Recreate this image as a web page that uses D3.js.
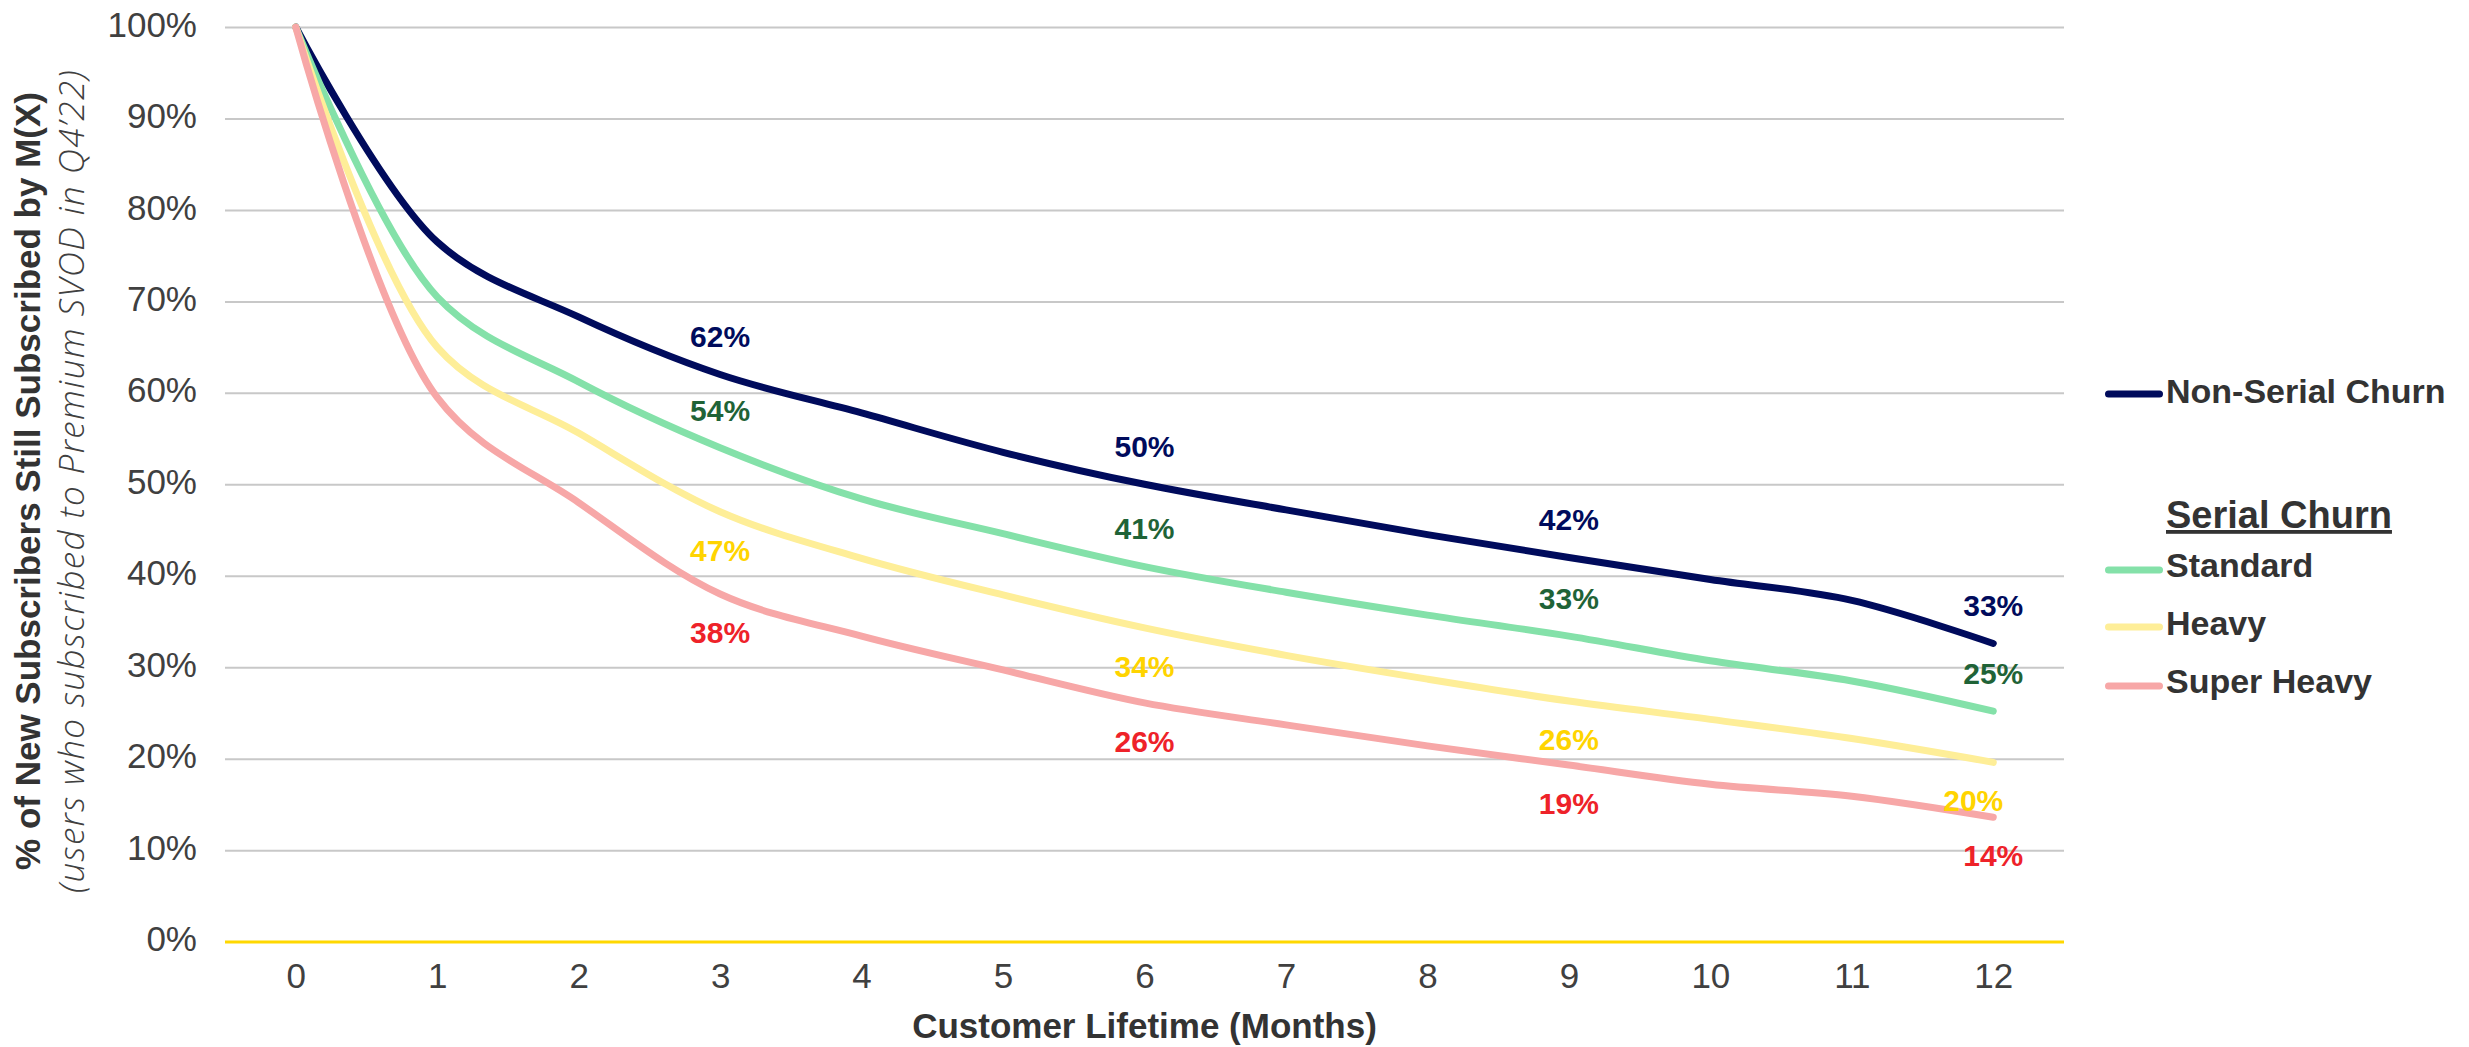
<!DOCTYPE html>
<html>
<head>
<meta charset="utf-8">
<script src="https://cdn.jsdelivr.net/npm/d3@7"></script>
<style>
  html, body { margin: 0; padding: 0; background: #ffffff; }
  svg { display: block; }
</style>
</head>
<body>
<svg id="chart" width="2469" height="1047"></svg>
<script>
// Retention by month of customer lifetime (share of new subscribers still subscribed)
const months = ["0", "1", "2", "3", "4", "5", "6", "7", "8", "9", "10", "11", "12"];
const nonSerial  = [1.00, 0.765, 0.683, 0.62, 0.578, 0.535, 0.50, 0.472, 0.445, 0.42, 0.396, 0.373, 0.326];
const standard   = [1.00, 0.705, 0.612, 0.54, 0.484, 0.446, 0.41, 0.382, 0.357, 0.334, 0.307, 0.285, 0.252];
const heavy      = [1.00, 0.650, 0.556, 0.47, 0.419, 0.379, 0.343, 0.313, 0.287, 0.263, 0.243, 0.222, 0.196];
const superHeavy = [1.00, 0.595, 0.480, 0.38, 0.334, 0.297, 0.261, 0.237, 0.214, 0.193, 0.172, 0.159, 0.136];
const labelMonths = ["3", "6", "9", "12"];
const yTicks = [0, 0.1, 0.2, 0.3, 0.4, 0.5, 0.6, 0.7, 0.8, 0.9, 1.0];
const seriesNames = ["Non-Serial Churn", "Standard", "Heavy", "Super Heavy"];

const series = [
  { name: seriesNames[0], values: nonSerial,  line: "#000b5c", label: "#000b5c", side: -1 },
  { name: seriesNames[1], values: standard,   line: "#84e1a9", label: "#1f6337", side: -1 },
  { name: seriesNames[2], values: heavy,      line: "#feee98", label: "#ffd400", side: 1 },
  { name: seriesNames[3], values: superHeavy, line: "#f7a7a7", label: "#ee2229", side: 1 }
];

const svg = d3.select("#chart");
const plot = { left: 225, right: 2064, top: 27, bottom: 941.6 };

const x = d3.scalePoint().domain(months).range([plot.left, plot.right]).padding(0.5);
const y = d3.scaleLinear().domain([0, 1]).range([plot.bottom, plot.top]);
const pct = d3.format(".0%");

// horizontal gridlines
const grid = svg.append("g")
  .attr("transform", `translate(${plot.left},0)`)
  .call(d3.axisLeft(y).tickValues(yTicks).tickSize(-(plot.right - plot.left)).tickFormat(""));
grid.select(".domain").remove();
grid.selectAll(".tick line")
  .attr("stroke", d => d === 0 ? "#ffd800" : "#c8c8c8")
  .attr("stroke-width", d => d === 0 ? 3 : 2);
// keep the baseline on top of the other gridlines
grid.selectAll(".tick").filter(d => d === 0).raise();

// y axis labels
const yAxis = svg.append("g")
  .attr("transform", `translate(${plot.left},0)`)
  .call(d3.axisLeft(y).tickValues(yTicks).tickSize(0).tickPadding(28).tickFormat(pct));
yAxis.select(".domain").remove();
yAxis.selectAll("text")
  .attr("dy", "0.26em")
  .attr("fill", "#404040")
  .style("font-family", "'Liberation Sans', Arial, sans-serif")
  .style("font-size", "35px");

// x axis labels
const xAxis = svg.append("g")
  .attr("transform", `translate(0,${plot.bottom})`)
  .call(d3.axisBottom(x).tickSize(0));
xAxis.select(".domain").remove();
xAxis.selectAll("text")
  .attr("y", 46)
  .attr("dy", null)
  .attr("fill", "#404040")
  .style("font-family", "'Liberation Sans', Arial, sans-serif")
  .style("font-size", "35px");

// series lines
const lineGen = d3.line()
  .x((d, i) => x(months[i]))
  .y(d => y(d))
  .curve(d3.curveCatmullRom.alpha(0.5));

svg.append("g").selectAll("path")
  .data(series)
  .join("path")
  .attr("d", s => lineGen(s.values))
  .attr("fill", "none")
  .attr("stroke", s => s.line)
  .attr("stroke-width", 7)
  .attr("stroke-linecap", "round")
  .attr("stroke-linejoin", "round");

// value labels at quarterly points
const labelOffset = 38;
const labelData = [];
series.forEach(s => {
  labelMonths.forEach(m => {
    const i = months.indexOf(m);
    labelData.push({ s, m, v: s.values[i] });
  });
});
svg.append("g").selectAll("text")
  .data(labelData)
  .join("text")
  .attr("x", d => x(d.m) + (d.s.name === "Heavy" && d.m === "12" ? -20 : 0))
  .attr("y", d => y(d.v) + d.s.side * labelOffset)
  .attr("dy", "0.36em")
  .attr("text-anchor", "middle")
  .attr("fill", d => d.s.label)
  .style("font-family", "'Liberation Sans', Arial, sans-serif")
  .style("font-weight", "bold")
  .style("font-size", "30px")
  .text(d => pct(d.v));

// axis titles
svg.append("text")
  .attr("x", (plot.left + plot.right) / 2)
  .attr("y", 1038)
  .attr("text-anchor", "middle")
  .attr("fill", "#333333")
  .style("font-family", "'Liberation Sans', Arial, sans-serif")
  .style("font-weight", "bold")
  .style("font-size", "35px")
  .text("Customer Lifetime (Months)");

const yTitle = svg.append("g").attr("transform", "translate(40,481) rotate(-90)");
yTitle.append("text")
  .attr("text-anchor", "middle")
  .attr("fill", "#333333")
  .style("font-family", "'Liberation Sans', Arial, sans-serif")
  .style("font-weight", "bold")
  .style("font-size", "35px")
  .text("% of New Subscribers Still Subscribed by M(X)");
yTitle.append("text")
  .attr("x", 0)
  .attr("y", 44)
  .attr("text-anchor", "middle")
  .attr("fill", "#404040")
  .style("font-family", "'Open Sans', 'Liberation Sans', sans-serif")
  .style("font-style", "italic")
  .style("font-weight", "300")
  .style("font-size", "35px")
  .style("letter-spacing", "1.4px")
  .text("(users who subscribed to Premium SVOD in Q4\u201922)");

// legend
const legend = svg.append("g");
const legendFont = "'Liberation Sans', Arial, sans-serif";
const legendRows = [
  { s: series[0], y: 394, base: 403 },
  { s: series[1], y: 570, base: 577 },
  { s: series[2], y: 627, base: 635 },
  { s: series[3], y: 686, base: 693 }
];
legendRows.forEach(r => {
  legend.append("line")
    .attr("x1", 2108.5).attr("x2", 2159.5)
    .attr("y1", r.y).attr("y2", r.y)
    .attr("stroke", r.s.line)
    .attr("stroke-width", 7)
    .attr("stroke-linecap", "round");
  legend.append("text")
    .attr("x", 2166).attr("y", r.base)
    .attr("fill", "#333333")
    .style("font-family", legendFont)
    .style("font-weight", "bold")
    .style("font-size", "34px")
    .text(r.s.name);
});
legend.append("text")
  .attr("x", 2166).attr("y", 528)
  .attr("fill", "#333333")
  .style("font-family", legendFont)
  .style("font-weight", "bold")
  .style("font-size", "38px")
  .style("text-decoration", "underline")
  .text("Serial Churn");
</script>
</body>
</html>
